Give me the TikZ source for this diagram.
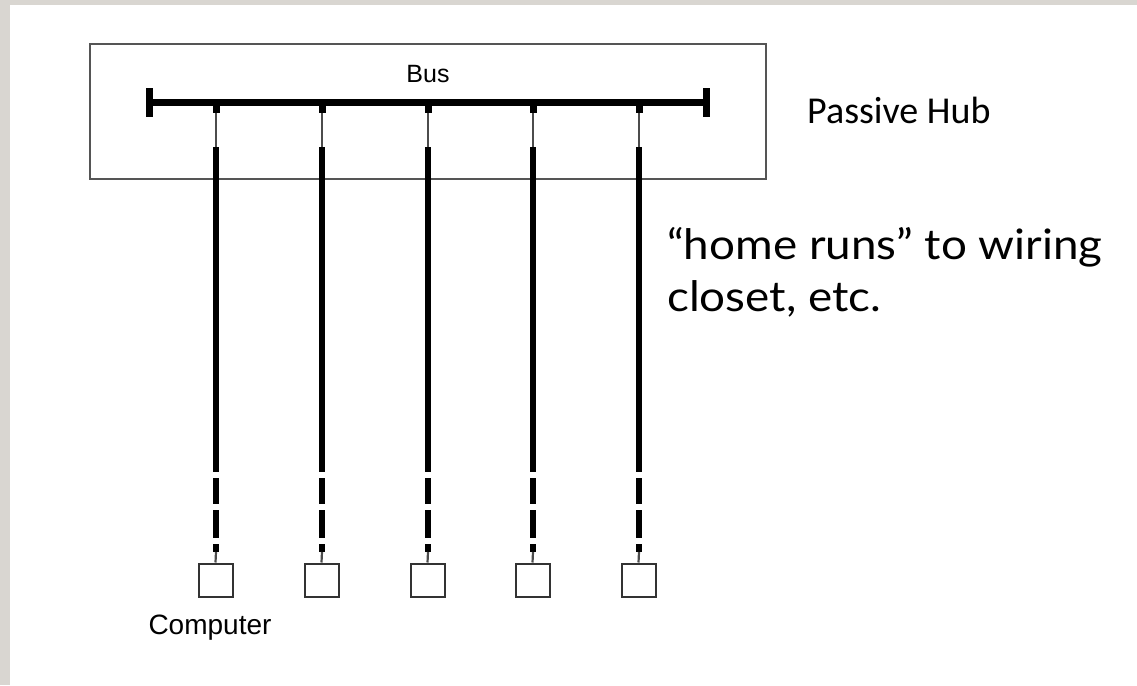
\documentclass[tikz,border=0pt]{standalone}
\usepackage{fontspec}
\setmainfont{Liberation Sans}
\newfontfamily\calibri{Carlito}
\newfontfamily\gill[FakeStretch=1.09]{Lato}
\definecolor{bordergray}{HTML}{D9D6D1}
\definecolor{boxgray}{HTML}{555555}
\begin{document}
\begin{tikzpicture}[x=1pt,y=-1pt,
  hubbox/.style={draw=boxgray, line width=1.3pt, minimum width=676pt, minimum height=135pt, inner sep=0pt},
  busline/.style={line width=7pt, black},
  endcap/.style={line width=7pt, black},
  tapnub/.style={fill=black, minimum width=7pt, minimum height=11pt, inner sep=0pt},
  thinwire/.style={line width=2.2pt, black!70},
  thickwire/.style={line width=5.5pt, black, dash pattern=on 325pt off 6pt on 26pt off 6pt on 28pt off 6pt on 8pt},
  pc/.style={draw=black!80, line width=2pt, minimum width=34pt, minimum height=33pt, inner sep=0pt},
  smalltext/.style={font=\fontsize{25}{29}\selectfont, inner sep=0pt},
]
\useasboundingbox (0,0) rectangle (1137,685);
\fill[bordergray] (0,0) rectangle (1137,685);
\fill[white] (10,5) rectangle (1137,685);

% hub box
\node[hubbox] (hub) at (428,111.5) {};
\node[smalltext] (bus) at (428,74) {Bus};
\node[anchor=west, inner sep=0pt, font=\calibri\fontsize{38}{44}\selectfont] (hublabel) at (807,110) {Passive Hub};

% bus
\coordinate (busL) at (149,102);
\coordinate (busR) at (706,102);
\draw[busline] (busL) -- (busR);
\draw[endcap] ([yshift=-14.5pt]busL) -- ([yshift=14.5pt]busL);
\draw[endcap] ([yshift=-14.5pt]busR) -- ([yshift=14.5pt]busR);

% drops
\foreach \i/\x in {1/216,2/322,3/428,4/533,5/639}{
  \node[tapnub] (t\i) at (\x,107.5) {};
  \coordinate (j\i) at (\x,147);
  \coordinate (k\i) at (\x,552);
  \node[pc] (c\i) at (\x-0.5,580) {};
  \draw[thinwire] (t\i.south) -- (j\i);
  \draw[thickwire] (j\i) -- (k\i);
  \draw[thinwire] (k\i) -- (c\i.north);
}

\node[smalltext, font=\fontsize{28}{32}\selectfont] (comp) at (210,628) {Computer};

\node[anchor=north west, inner sep=0pt, align=left, font=\gill\fontsize{42}{52}\selectfont] (runs) at (667,227) {“home runs” to wiring\\closet, etc.};
\end{tikzpicture}
\end{document}
